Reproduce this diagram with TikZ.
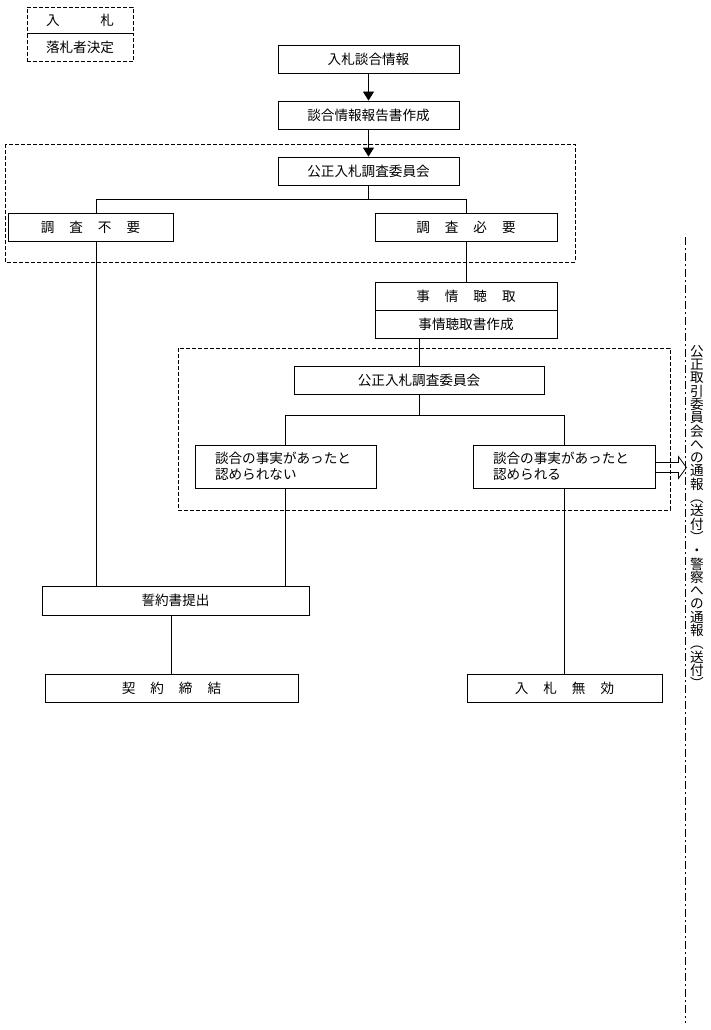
\documentclass[tikz,border=0pt]{standalone}
\usepackage{fontspec}
\setmainfont{Noto Sans CJK JP}
\usetikzlibrary{arrows.meta, positioning}
\newcommand{\kuhaku}{\hspace{1.1em}}

\begin{document}
\begin{tikzpicture}[
    x=1pt, y=-1pt,
    >={Triangle[width=11pt,length=9pt]},
    font=\fontsize{13.6pt}{16pt}\selectfont,
    box/.style  = {rectangle, draw, line width=0.8pt, minimum height=28pt,
                   inner sep=0pt, align=center},
    note/.style = {box, align=left, minimum height=43pt, inner xsep=20pt},
    lgd/.style  = {rectangle, draw, line width=0.8pt, dash pattern=on 4pt off 2pt,
                   minimum width=106pt, inner sep=0pt, align=center},
    grp/.style  = {draw, line width=0.8pt, dash pattern=on 4pt off 2pt},
    arr/.style  = {->, line width=0.8pt},
    conn/.style = {line width=0.8pt},
    tate/.style = {align=center, inner sep=0pt, font=\fontsize{13.6pt}{13.3pt}\selectfont},
]
\useasboundingbox (0,0) rectangle (710,1030);

% ---------------- legend ----------------
\node[lgd, minimum height=26pt] (lgdtop) at (80,20) {入\hspace{3em}札};
\node[lgd, minimum height=28pt, below=0pt of lgdtop] (lgdbot) {落札者決定};

% ---------------- first committee ----------------
\node[box, minimum width=181pt] (info) at (368.5,59) {入札談合情報};
\node[box, minimum width=181pt] (report) at (368.5,115) {談合情報報告書作成};
\node[box, minimum width=181pt] (comm1) at (368.5,171) {公正入札調査委員会};
\node[box, minimum width=165pt] (nochk) at (90.5,227) {調\kuhaku 査\kuhaku 不\kuhaku 要};
\node[box, minimum width=182pt] (chk) at (466,227) {調\kuhaku 査\kuhaku 必\kuhaku 要};
\draw[grp] (5,144) rectangle (575,262);

\draw[arr] (info.south) -- (report.north);
\draw[arr] (report.south) -- (comm1.north);
\draw[conn] (comm1.south) -- ++(0,14) coordinate (cbr);
\draw[conn] ([xshift=5.5pt]nochk.north) |- (cbr) -| (chk.north);

% ---------------- hearing ----------------
\node[box, minimum width=182pt] (hear) at (466,296) {事\kuhaku 情\kuhaku 聴\kuhaku 取};
\node[box, minimum width=182pt, below=0pt of hear] (hearrep) {事情聴取書作成};
\draw[conn] (chk.south) -- (hear.north);

% ---------------- second committee ----------------
\node[box, minimum width=250pt] (comm2) at (419,380) {公正入札調査委員会};
\node[note, text width=141pt] (notfound) at (285.5,466.5) {談合の事実があったと\\認められない};
\node[note, text width=142pt] (found) at (564,466.5) {談合の事実があったと\\認められる};
\draw[grp] (178,348) rectangle (670,510);

\draw[conn] (comm2.north |- hearrep.south) -- (comm2.north);
\draw[conn] (comm2.south) -- ++(0,21) coordinate (hbr);
\draw[conn] (notfound.north) |- (hbr) -| (found.north);

% hollow arrow to the notification line
\draw[conn] (found.east) ++(0,-4) -- ++(23,0) -- ++(0,-6) -- ++(8,11)
    -- ++(-8,11) -- ++(0,-6) -- ++(-23,0);

% ---------------- results ----------------
\node[box, minimum width=267pt, minimum height=29pt] (pledge) at (175.5,600.5) {誓約書提出};
\node[box, minimum width=253pt] (contract) at (171.5,688) {契\kuhaku 約\kuhaku 締\kuhaku 結};
\node[box, minimum width=195pt] (invalid) at (564.5,688) {入\kuhaku 札\kuhaku 無\kuhaku 効};

\draw[conn] ([xshift=5.5pt]nochk.south) -- ([xshift=5.5pt]nochk.south |- pledge.north);
\draw[conn] (notfound.south) -- (notfound.south |- pledge.north);
\draw[conn] (contract.north |- pledge.south) -- (contract.north);
\draw[conn] (found.south) -- (found.south |- invalid.north);

% ---------------- notification ----------------
\coordinate (ntop) at (685,237);
\coordinate (nbot) at (685,1023);
\draw[conn, dash pattern=on 8pt off 3pt on 2pt off 3pt] (ntop) -- (nbot);
\node[tate, anchor=north] (tsuho) at (697,345)
    {公\\正\\取\\引\\委\\員\\会\\へ\\の\\通\\報\\︵\\送\\付\\︶\\・\\警\\察\\へ\\の\\通\\報\\︵\\送\\付\\︶};

\end{tikzpicture}
\end{document}
